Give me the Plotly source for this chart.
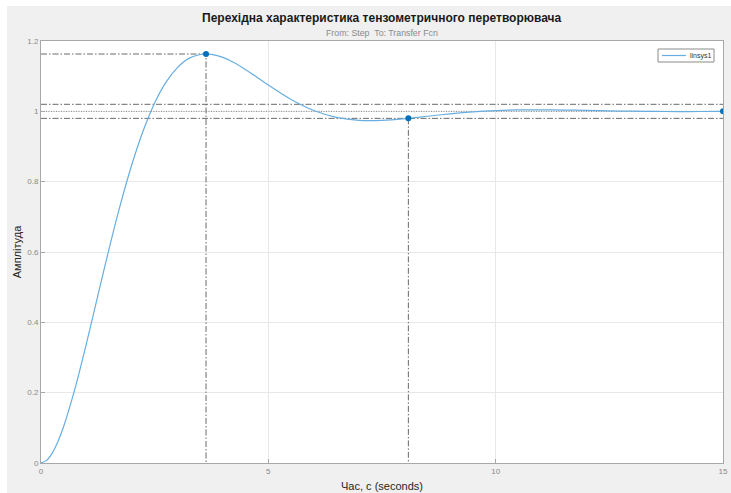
import plotly.graph_objects as go

# Step response samples (time in seconds, amplitude)
time_s = [0, 0.125, 0.25, 0.375, 0.5, 0.75, 1.0, 1.25, 1.5, 1.75, 2.0, 2.25, 2.5, 2.75,
          3.0, 3.25, 3.5, 3.63, 3.75, 4.0, 4.25, 4.5, 4.75, 5.0, 5.5, 6.0, 6.5, 7.0,
          7.5, 8.0, 8.5, 9.0, 9.5, 10.0, 10.5, 11.0, 11.5, 12.0, 12.5, 13.0, 13.5,
          14.0, 14.5, 15.0]
amplitude = [0.0, 0.0075, 0.0287, 0.0616, 0.1044, 0.2127, 0.3403, 0.4758, 0.6105,
             0.7366, 0.8495, 0.9454, 1.0238, 1.0829, 1.1243, 1.1506, 1.1617, 1.1630,
             1.1618, 1.1533, 1.1379, 1.1184, 1.0971, 1.0746, 1.0336, 1.0023, 0.9828,
             0.9744, 0.9742, 0.9790, 0.9860, 0.9929, 0.9985, 1.0022, 1.0040, 1.0043,
             1.0037, 1.0026, 1.0014, 1.0004, 0.9998, 0.9994, 0.9995, 0.9997]
series_name = "linsys1"

# Characteristic points
peak_time, peak_value = 3.63, 1.163
settle_time, settle_value = 8.08, 0.980
final_time, final_value = 15.0, 1.0
band_upper, band_lower = 1.02, 0.98

x_ticks = [0, 5, 10, 15]
y_ticks = [0, 0.2, 0.4, 0.6, 0.8, 1.0, 1.2]
y_tick_text = ["0", "0.2", "0.4", "0.6", "0.8", "1", "1.2"]

# Plot area in pixels (used to place paper-referenced decorations)
W, H = 731, 493
L, R, T, B = 41, 8, 41, 30
PW, PH = W - L - R, H - T - B


def px(x):
    return (x - L) / PW


def py(y):
    return (H - B - y) / PH


ref_color = "#6a6a6a"
dash_dot = "6px,2px,1.5px,2px"
curve_color = "#68aee0"

fig = go.Figure()

# Reference lines: peak, steady state and settling band
fig.add_trace(go.Scatter(x=[0, peak_time, peak_time], y=[peak_value, peak_value, 0],
                         mode="lines", line=dict(color=ref_color, width=1, dash=dash_dot),
                         showlegend=False, hoverinfo="skip"))
for lvl in (band_upper, band_lower):
    fig.add_trace(go.Scatter(x=[0, 15], y=[lvl, lvl], mode="lines",
                             line=dict(color=ref_color, width=1, dash=dash_dot),
                             showlegend=False, hoverinfo="skip"))
fig.add_trace(go.Scatter(x=[0, 15], y=[final_value, final_value], mode="lines",
                         line=dict(color="#8a8a8a", width=1, dash="1px,1.5px"),
                         showlegend=False, hoverinfo="skip"))
fig.add_trace(go.Scatter(x=[settle_time, settle_time], y=[settle_value, 0], mode="lines",
                         line=dict(color=ref_color, width=1, dash=dash_dot),
                         showlegend=False, hoverinfo="skip"))

# Response curve
fig.add_trace(go.Scatter(x=time_s, y=amplitude, mode="lines", name=series_name,
                         line=dict(color=curve_color, width=1.2, shape="spline", smoothing=0.8),
                         showlegend=False))

# Markers at peak, settling and final value
fig.add_trace(go.Scatter(x=[peak_time, settle_time, final_time],
                         y=[peak_value, settle_value, final_value], mode="markers",
                         marker=dict(color="#0072BD", size=6), showlegend=False))

axis_common = dict(showline=True, linecolor="#a8a8a8", linewidth=1, mirror=True,
                   ticks="inside", ticklen=4, tickcolor="#a8a8a8",
                   showgrid=True, gridcolor="#e8e8e8", gridwidth=1, zeroline=False,
                   automargin=False,
                   tickfont=dict(family="Liberation Sans, Arial", size=8, color="#8a8a8a"))

fig.update_layout(
    width=W, height=H,
    margin=dict(l=L, r=R, t=T, b=B),
    paper_bgcolor="#f0f0f0", plot_bgcolor="white",
    font=dict(family="Liberation Sans, Arial"),
    xaxis=dict(range=[0, 15], tickvals=x_ticks, **axis_common,
               title=dict(text="Час, с (seconds)", standoff=7,
                          font=dict(size=11, color="#262626"))),
    yaxis=dict(range=[0, 1.2], tickvals=y_ticks, ticktext=y_tick_text, **axis_common,
               title=dict(text="Амплітуда", standoff=3,
                          font=dict(size=11, color="#262626"))),
    showlegend=False,
)

# Title and subtitle
fig.add_annotation(text="<b>Перехідна характеристика тензометричного перетворювача</b>",
                   xref="paper", yref="paper", x=0.5, y=py(18),
                   xanchor="center", yanchor="middle", showarrow=False,
                   font=dict(size=12, color="#1a1a1a"))
fig.add_annotation(text="From: Step  To: Transfer Fcn",
                   xref="paper", yref="paper", x=0.5, y=py(33),
                   xanchor="center", yanchor="middle", showarrow=False,
                   font=dict(size=8.8, color="#8a8a8a"))

# Compact legend box
fig.add_shape(type="rect", xref="paper", yref="paper",
              x0=px(658), x1=px(714), y0=py(62), y1=py(49),
              fillcolor="white", line=dict(color="#8a8a8a", width=1), layer="above")
fig.add_shape(type="line", xref="paper", yref="paper",
              x0=px(662), x1=px(686), y0=py(55.5), y1=py(55.5),
              line=dict(color=curve_color, width=1.2), layer="above")
fig.add_annotation(text=series_name, xref="paper", yref="paper",
                   x=px(688), y=py(55.5), xanchor="left", yanchor="middle",
                   showarrow=False, font=dict(size=7, color="#333333"))

# Thin white border strips around the figure panel
fig.add_shape(type="rect", xref="paper", yref="paper",
              x0=px(0), x1=px(W), y0=py(6), y1=py(0),
              fillcolor="white", line=dict(width=0), layer="above")
fig.add_shape(type="rect", xref="paper", yref="paper",
              x0=px(0), x1=px(7), y0=py(H), y1=py(0),
              fillcolor="white", line=dict(width=0), layer="above")

fig.write_html("out.html")
